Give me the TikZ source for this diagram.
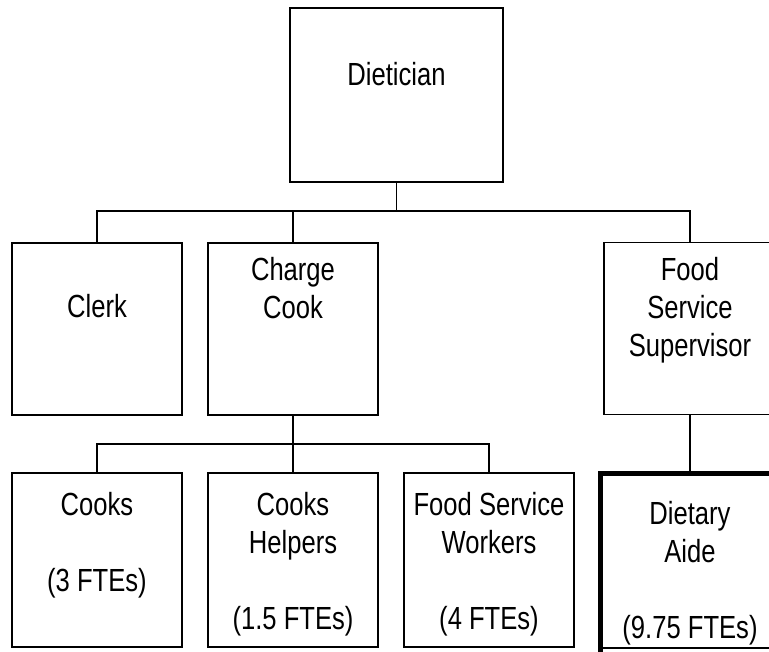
\documentclass[tikz,border=0pt]{standalone}
\usepackage{fontspec}
\setmainfont[FakeStretch=0.8]{Liberation Sans}
\usetikzlibrary{positioning}

\tikzset{
  post/.style={draw, line width=1.5pt, minimum width=170pt, minimum height=172pt, inner sep=0pt},
  lbl/.style={anchor=north, align=center, inner sep=0pt, font=\fontsize{32}{38}\selectfont},
  wire/.style={line width=1.5pt}
}

\begin{document}
\begin{tikzpicture}[x=1pt, y=-1pt]
  \useasboundingbox (0,0) rectangle (769,652);
  % boxes
  \node[post, minimum width=213pt, minimum height=174pt] (diet) at (396.5,95) {};
  \node[post] (clerk) at (97,329) {};
  \node[post] (ccook) at (293,329) {};
  \node[post, minimum width=172pt] (fss) at (690,328.5) {};
  \node[post, minimum height=174pt] (cooks) at (97,560) {};
  \node[post, minimum height=174pt] (helpers) at (293,560) {};
  \node[post, minimum height=174pt] (fsw) at (489,560) {};
  \node[post, line width=2.5pt, minimum width=176pt, minimum height=173pt] (aide) at (690,561.5) {};
  \draw[line width=5pt, line cap=rect] (aide.south west) -- (aide.north west) -- (aide.north east);

  % labels
  \node[lbl, below=55pt of diet.north] (diettxt) {Dietician};
  \node[lbl, below=52pt of clerk.north] (clerktxt) {Clerk};
  \node[lbl, below=15pt of ccook.north] (ccooktxt) {Charge\\Cook};
  \node[lbl, below=15pt of fss.north] (fsstxt) {Food\\Service\\Supervisor};
  \node[lbl, below=20pt of cooks.north] (cookstxt) {Cooks\\[38pt](3 FTEs)};
  \node[lbl, below=20pt of helpers.north] (helperstxt) {Cooks\\Helpers\\[38pt](1.5 FTEs)};
  \node[lbl, below=20pt of fsw.north] (fswtxt) {Food Service\\Workers\\[38pt](4 FTEs)};
  \node[lbl, below=27pt of aide.north] (aidetxt) {Dietary\\Aide\\[38pt](9.75 FTEs)};

  % connectors
  \coordinate (bus1) at (396.5,211);
  \coordinate (bus2) at (293,444);
  \draw[wire] (diet.south) -- (bus1);
  \draw[wire] (clerk.north) |- (bus1) -| (fss.north);
  \draw[wire] (ccook.north) -- (ccook.north |- bus1);
  \draw[wire] (ccook.south) -- (helpers.north);
  \draw[wire] (cooks.north) |- (bus2) -| (fsw.north);
  \draw[wire] (fss.south) -- (aide.north);
\end{tikzpicture}
\end{document}
